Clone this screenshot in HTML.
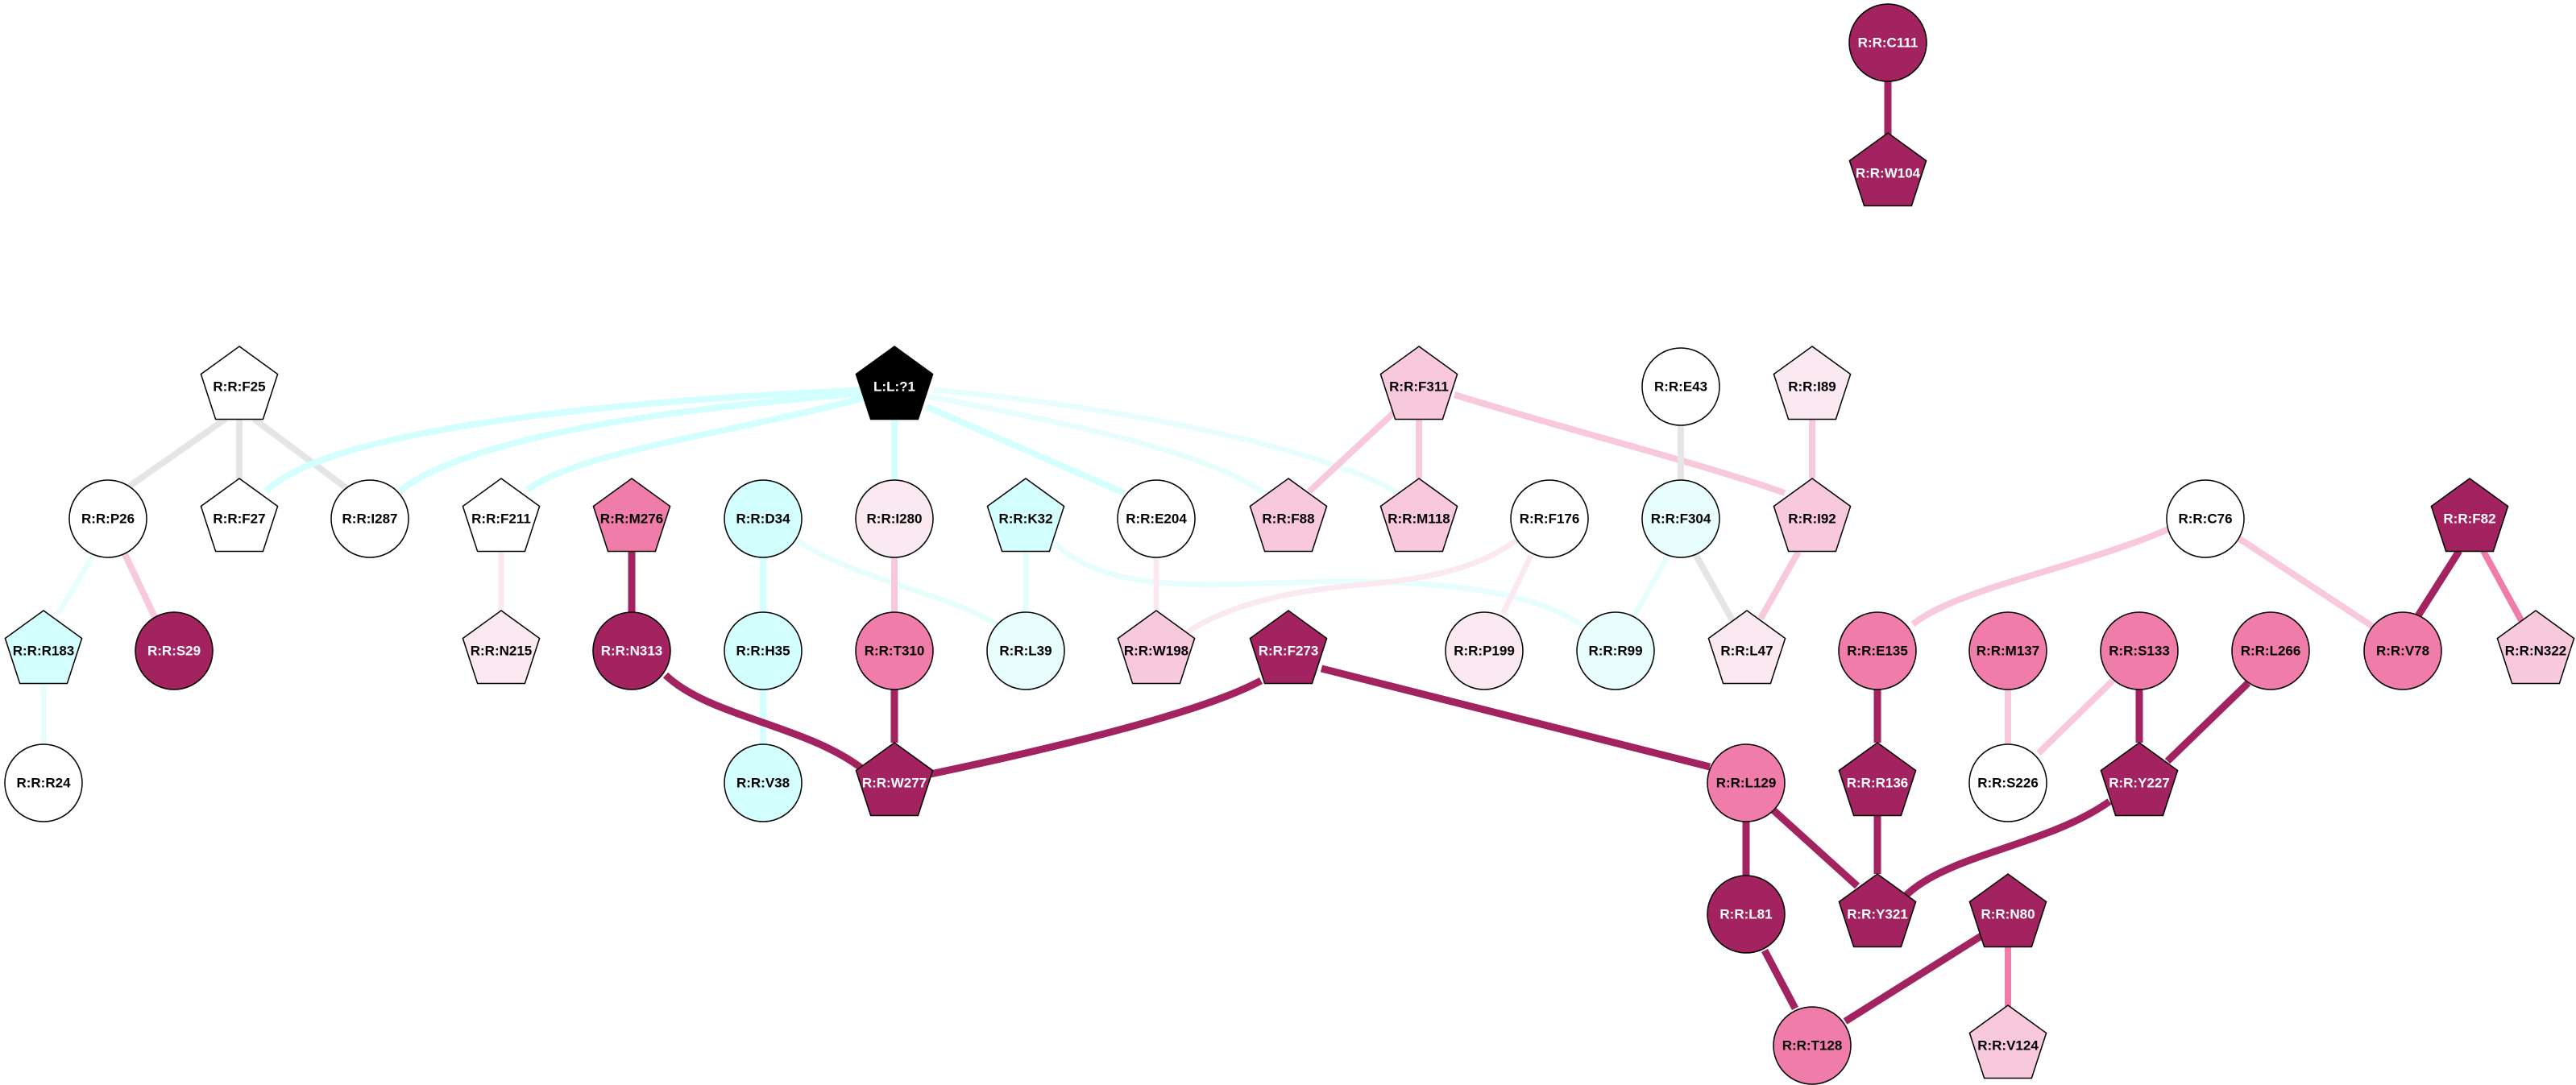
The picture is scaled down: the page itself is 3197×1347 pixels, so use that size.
<!DOCTYPE html>
<html><head><meta charset="utf-8"><style>
html,body{margin:0;padding:0;background:#fff;}
svg{display:block;}
text{font-family:"Liberation Sans",Arial,sans-serif;font-weight:bold;font-size:17px;text-anchor:middle;dominant-baseline:central;}
.w{fill:#fff;}
.e{fill:none;stroke-linecap:butt;}
.dk{stroke:#a2235f;stroke-width:9;}
.md{stroke:#f07ca9;stroke-width:8;}
.lp{stroke:#f8c8dd;stroke-width:8;}
.vp{stroke:#fbe9f1;stroke-width:7;}
.cy{stroke:#d4ffff;stroke-width:8;}
.lc{stroke:#e8fefd;stroke-width:7;}
.gr{stroke:#e5e5e5;stroke-width:8;}
circle,polygon{stroke:#000;stroke-width:1.5;}
</style></head><body>
<svg width="3197" height="1347" viewBox="0 0 3197 1347" xmlns="http://www.w3.org/2000/svg">
<defs><polygon id="p" points="0,-50 47.6,-15.5 29.4,40.5 -29.4,40.5 -47.6,-15.5"/></defs>
<!-- edges -->
<line class="e dk" x1="2343" y1="100" x2="2343" y2="168"/>
<line class="e gr" x1="280" y1="520" x2="160" y2="604"/>
<line class="e gr" x1="297" y1="520" x2="297" y2="595"/>
<line class="e gr" x1="315" y1="520" x2="430" y2="606"/>
<line class="e lc" x1="115" y1="690" x2="72" y2="762"/>
<line class="e lp" x1="155" y1="688" x2="192" y2="766"/>
<line class="e lc" x1="54" y1="848" x2="54" y2="926"/>
<path class="e cy" d="M1080,484 C700,500 400,540 330,610"/>
<path class="e cy" d="M1075,488 C800,510 580,545 495,610"/>
<path class="e cy" d="M1080,492 C900,540 720,560 655,608"/>
<line class="e cy" x1="1110" y1="520" x2="1110" y2="596"/>
<line class="e cy" x1="1150" y1="505" x2="1395" y2="612"/>
<path class="e lc" d="M1150,492 C1300,520 1500,560 1568,612"/>
<path class="e lc" d="M1158,484 C1400,505 1650,560 1735,612"/>
<line class="e vp" x1="622" y1="685" x2="622" y2="758"/>
<line class="e dk" x1="784" y1="685" x2="784" y2="760"/>
<line class="e cy" x1="947" y1="692" x2="947" y2="760"/>
<line class="e cy" x1="947" y1="856" x2="947" y2="924"/>
<path class="e lc" d="M988,670 C1060,720 1190,740 1240,778"/>
<line class="e lp" x1="1110" y1="692" x2="1110" y2="760"/>
<line class="e dk" x1="1110" y1="856" x2="1110" y2="922"/>
<path class="e dk" d="M826,838 C880,890 1000,900 1071,955"/>
<path class="e dk" d="M1150,962 C1350,920 1500,880 1565,845"/>
<line class="e dk" x1="1640" y1="830" x2="2122" y2="952"/>
<line class="e lc" x1="1273" y1="685" x2="1273" y2="760"/>
<path class="e lc" d="M1310,675 C1380,740 1500,725 1650,722 C1850,720 1930,750 1972,782"/>
<line class="e vp" x1="1435" y1="692" x2="1435" y2="758"/>
<path class="e vp" d="M1885,668 C1820,720 1720,722 1650,730 C1550,742 1490,770 1465,792"/>
<line class="e vp" x1="1900" y1="690" x2="1865" y2="762"/>
<line class="e lp" x1="1730" y1="512" x2="1625" y2="610"/>
<line class="e lp" x1="1761" y1="521" x2="1761" y2="594"/>
<path class="e lp" d="M1805,490 C1950,535 2110,575 2215,612"/>
<line class="e gr" x1="2086" y1="528" x2="2086" y2="596"/>
<line class="e lc" x1="2070" y1="690" x2="2028" y2="765"/>
<line class="e gr" x1="2104" y1="688" x2="2150" y2="770"/>
<line class="e lp" x1="2249" y1="521" x2="2249" y2="594"/>
<line class="e lp" x1="2232" y1="685" x2="2185" y2="768"/>
<path class="e lp" d="M2691,657 C2580,705 2430,730 2374,775"/>
<line class="e lp" x1="2778" y1="668" x2="2945" y2="778"/>
<line class="e dk" x1="3052" y1="684" x2="3000" y2="766"/>
<line class="e md" x1="3082" y1="684" x2="3130" y2="772"/>
<line class="e dk" x1="2330" y1="856" x2="2330" y2="922"/>
<line class="e dk" x1="2330" y1="1012" x2="2330" y2="1085"/>
<line class="e lp" x1="2492" y1="856" x2="2492" y2="924"/>
<line class="e lp" x1="2622" y1="845" x2="2530" y2="935"/>
<line class="e dk" x1="2655" y1="856" x2="2655" y2="922"/>
<line class="e dk" x1="2790" y1="848" x2="2690" y2="945"/>
<path class="e dk" d="M2618,995 C2540,1050 2420,1060 2366,1111"/>
<line class="e dk" x1="2200" y1="1005" x2="2305" y2="1100"/>
<line class="e dk" x1="2167" y1="1020" x2="2167" y2="1087"/>
<line class="e dk" x1="2190" y1="1180" x2="2228" y2="1252"/>
<line class="e dk" x1="2462" y1="1160" x2="2290" y2="1268"/>
<line class="e md" x1="2492" y1="1176" x2="2492" y2="1250"/>
<!-- nodes -->
<g fill="#a2235f"><circle cx="2343" cy="53" r="48"/></g><text class="w" x="2343" y="53">R:R:C111</text>
<use href="#p" x="2343" y="215" fill="#a2235f"/><text class="w" x="2343" y="215">R:R:W104</text>

<use href="#p" x="297" y="480" fill="#fff"/><text x="297" y="480">R:R:F25</text>
<use href="#p" x="1110" y="480" fill="#000"/><text class="w" x="1110" y="480">L:L:?1</text>
<use href="#p" x="1761" y="480" fill="#f8c8dd"/><text x="1761" y="480">R:R:F311</text>
<circle cx="2086" cy="480" r="48" fill="#fff"/><text x="2086" y="480">R:R:E43</text>
<use href="#p" x="2249" y="480" fill="#fbe9f1"/><text x="2249" y="480">R:R:I89</text>

<circle cx="134" cy="644" r="48" fill="#fff"/><text x="134" y="644">R:R:P26</text>
<use href="#p" x="297" y="644" fill="#fff"/><text x="297" y="644">R:R:F27</text>
<circle cx="459" cy="644" r="48" fill="#fff"/><text x="459" y="644">R:R:I287</text>
<use href="#p" x="622" y="644" fill="#fff"/><text x="622" y="644">R:R:F211</text>
<use href="#p" x="784" y="644" fill="#f07ca9"/><text x="784" y="644">R:R:M276</text>
<circle cx="947" cy="644" r="48" fill="#d4ffff"/><text x="947" y="644">R:R:D34</text>
<circle cx="1110" cy="644" r="48" fill="#fbe9f1"/><text x="1110" y="644">R:R:I280</text>
<use href="#p" x="1273" y="644" fill="#d4ffff"/><text x="1273" y="644">R:R:K32</text>
<circle cx="1435" cy="644" r="48" fill="#fff"/><text x="1435" y="644">R:R:E204</text>
<use href="#p" x="1599" y="644" fill="#f8c8dd"/><text x="1599" y="644">R:R:F88</text>
<use href="#p" x="1761" y="644" fill="#f8c8dd"/><text x="1761" y="644">R:R:M118</text>
<circle cx="1923" cy="644" r="48" fill="#fff"/><text x="1923" y="644">R:R:F176</text>
<circle cx="2086" cy="644" r="48" fill="#e8fefd"/><text x="2086" y="644">R:R:F304</text>
<use href="#p" x="2249" y="644" fill="#f8c8dd"/><text x="2249" y="644">R:R:I92</text>
<circle cx="2737" cy="644" r="48" fill="#fff"/><text x="2737" y="644">R:R:C76</text>
<use href="#p" x="3065" y="644" fill="#a2235f"/><text class="w" x="3065" y="644">R:R:F82</text>

<use href="#p" x="54" y="808" fill="#d4ffff"/><text x="54" y="808">R:R:R183</text>
<circle cx="216" cy="808" r="48" fill="#a2235f"/><text class="w" x="216" y="808">R:R:S29</text>
<use href="#p" x="622" y="808" fill="#fbe9f1"/><text x="622" y="808">R:R:N215</text>
<circle cx="784" cy="808" r="48" fill="#a2235f"/><text class="w" x="784" y="808">R:R:N313</text>
<circle cx="947" cy="808" r="48" fill="#d4ffff"/><text x="947" y="808">R:R:H35</text>
<circle cx="1110" cy="808" r="48" fill="#f07ca9"/><text x="1110" y="808">R:R:T310</text>
<circle cx="1273" cy="808" r="48" fill="#e8fefd"/><text x="1273" y="808">R:R:L39</text>
<use href="#p" x="1435" y="808" fill="#f8c8dd"/><text x="1435" y="808">R:R:W198</text>
<use href="#p" x="1599" y="808" fill="#a2235f"/><text class="w" x="1599" y="808">R:R:F273</text>
<circle cx="1842" cy="808" r="48" fill="#fbe9f1"/><text x="1842" y="808">R:R:P199</text>
<circle cx="2005" cy="808" r="48" fill="#e8fefd"/><text x="2005" y="808">R:R:R99</text>
<use href="#p" x="2168" y="808" fill="#fbe9f1"/><text x="2168" y="808">R:R:L47</text>
<circle cx="2330" cy="808" r="48" fill="#f07ca9"/><text x="2330" y="808">R:R:E135</text>
<circle cx="2492" cy="808" r="48" fill="#f07ca9"/><text x="2492" y="808">R:R:M137</text>
<circle cx="2655" cy="808" r="48" fill="#f07ca9"/><text x="2655" y="808">R:R:S133</text>
<circle cx="2818" cy="808" r="48" fill="#f07ca9"/><text x="2818" y="808">R:R:L266</text>
<circle cx="2982" cy="808" r="48" fill="#f07ca9"/><text x="2982" y="808">R:R:V78</text>
<use href="#p" x="3147" y="808" fill="#f8c8dd"/><text x="3147" y="808">R:R:N322</text>

<circle cx="54" cy="972" r="48" fill="#fff"/><text x="54" y="972">R:R:R24</text>
<circle cx="947" cy="972" r="48" fill="#d4ffff"/><text x="947" y="972">R:R:V38</text>
<use href="#p" x="1110" y="972" fill="#a2235f"/><text class="w" x="1110" y="972">R:R:W277</text>
<circle cx="2167" cy="972" r="48" fill="#f07ca9"/><text x="2167" y="972">R:R:L129</text>
<use href="#p" x="2330" y="972" fill="#a2235f"/><text class="w" x="2330" y="972">R:R:R136</text>
<circle cx="2492" cy="972" r="48" fill="#fff"/><text x="2492" y="972">R:R:S226</text>
<use href="#p" x="2655" y="972" fill="#a2235f"/><text class="w" x="2655" y="972">R:R:Y227</text>

<circle cx="2167" cy="1135" r="48" fill="#a2235f"/><text class="w" x="2167" y="1135">R:R:L81</text>
<use href="#p" x="2330" y="1135" fill="#a2235f"/><text class="w" x="2330" y="1135">R:R:Y321</text>
<use href="#p" x="2492" y="1135" fill="#a2235f"/><text class="w" x="2492" y="1135">R:R:N80</text>

<circle cx="2249" cy="1298" r="48" fill="#f07ca9"/><text x="2249" y="1298">R:R:T128</text>
<use href="#p" x="2492" y="1298" fill="#f8c8dd"/><text x="2492" y="1298">R:R:V124</text>
</svg>
</body></html>
